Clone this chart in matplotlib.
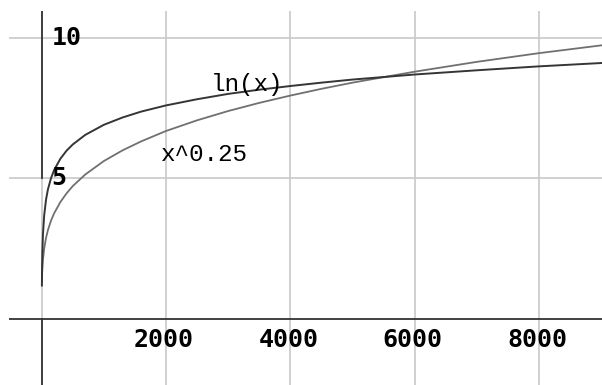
import matplotlib
matplotlib.use("Agg")
import matplotlib.pyplot as plt

# ---- data ----
x_vals = [3.3, 6, 10, 20, 40, 70, 100, 150, 200, 300, 400, 500, 700, 1000,
          1300, 1600, 2000, 2500, 3000, 3500, 4000, 4500, 5000, 6000, 7000,
          8000, 9014]
ln_vals = [1.19, 1.79, 2.30, 3.00, 3.69, 4.25, 4.61, 5.01, 5.30, 5.70, 5.99,
           6.21, 6.55, 6.91, 7.17, 7.38, 7.60, 7.82, 8.01, 8.16, 8.29, 8.41,
           8.52, 8.70, 8.85, 8.99, 9.11]
pow_vals = [1.35, 1.57, 1.78, 2.11, 2.51, 2.89, 3.16, 3.50, 3.76, 4.16, 4.47,
            4.73, 5.14, 5.62, 6.00, 6.32, 6.69, 7.07, 7.40, 7.69, 7.95, 8.19,
            8.41, 8.80, 9.15, 9.46, 9.74]
x_ticks = [2000, 4000, 6000, 8000]
x_tick_labels = ["2000", "4000", "6000", "8000"]
y_ticks = [5, 10]
y_tick_labels = ["5", "10"]
series_labels = ["ln(x)", "x^0.25"]
label_pos = [(2724, 8.11), (1914, 5.63)]

fig = plt.figure(figsize=(6.02, 3.85), dpi=100)
ax = fig.add_axes([9 / 602, 0, 593 / 602, 374 / 385])
ax.set_xlim(-526, 9014)
ax.set_ylim(-2.35, 10.96)
ax.axis("off")

grid_c = "#c8c8c8"
for xt in [0] + x_ticks:
    ax.axvline(xt, color=grid_c, lw=1.2, zorder=1)
for yt in y_ticks:
    ax.axhline(yt, color=grid_c, lw=1.2, zorder=1)

# axes lines
ax.axhline(0, color="#333333", lw=1.3, zorder=2)
ax.plot([0, 0], [y_ticks[0], 10.96], color="#333333", lw=1.3, zorder=2)
ax.plot([0, 0], [-2.35, 0], color="#333333", lw=1.3, zorder=2)

ax.plot(x_vals, pow_vals, color="#707070", lw=1.3, zorder=3)
ax.plot(x_vals, ln_vals, color="#353535", lw=1.4, zorder=4)

tick_font = dict(family="DejaVu Sans Mono", fontsize=18, fontweight="bold",
                 color="black")
for xt, lab in zip(x_ticks, x_tick_labels):
    ax.annotate(lab, (xt, 0), xytext=(-2, -9), textcoords="offset pixels",
                ha="center", va="top", **tick_font, zorder=5)
for yt, lab in zip(y_ticks, y_tick_labels):
    ax.annotate(lab, (0, yt), xytext=(10, 0), textcoords="offset pixels",
                ha="left", va="center", **tick_font, zorder=5)

for lab, (lx, ly) in zip(series_labels, label_pos):
    ax.text(lx, ly, lab, family="Liberation Mono", fontsize=17.5,
            color="black", ha="left", va="baseline", zorder=5)

fig.savefig("out.png", dpi=100, facecolor="white")
